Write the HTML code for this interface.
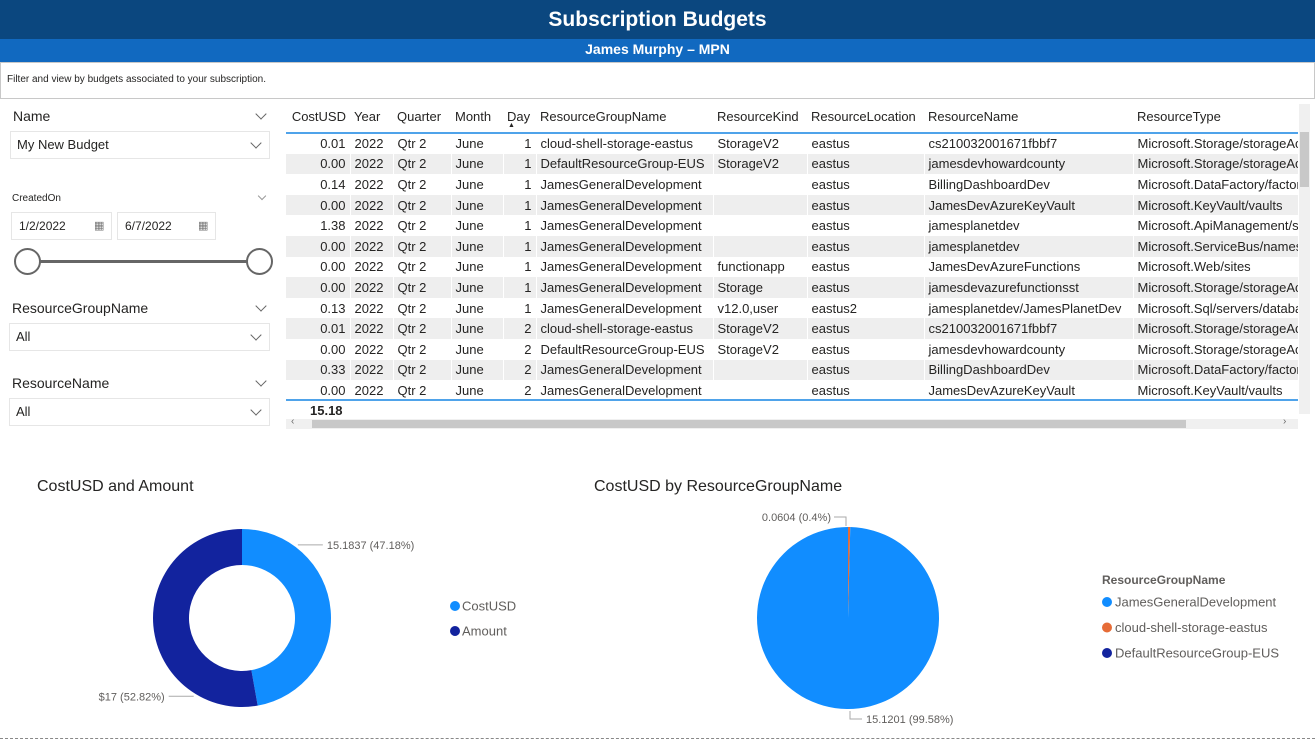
<!DOCTYPE html>
<html><head><meta charset="utf-8">
<style>
*{box-sizing:border-box;margin:0;padding:0}
body{width:1315px;height:740px;background:#fff;font-family:"Liberation Sans","DejaVu Sans",sans-serif;position:relative;overflow:hidden;color:#252423}
.abs{position:absolute}
.hdr1{left:0;top:0;width:1315px;height:39px;background:#0b477f;color:#fff;font-weight:bold;font-size:21px;text-align:center;line-height:40px}
.hdr2{left:0;top:39px;width:1315px;height:23px;background:#1169c0;color:#fff;font-weight:bold;font-size:14px;text-align:center;line-height:20px}
.desc{left:0;top:62px;width:1315px;height:37px;border:1px solid #c8c8c8;font-size:10px;line-height:34px;padding-left:6px;color:#252423}
.slab{font-size:14px;color:#252423}
.dd{border:1px solid #e6e6e6;background:#fff;font-size:13px;line-height:26px;padding-left:6px;color:#252423}
.chev{width:8px;height:8px;border-right:1px solid #666;border-bottom:1px solid #666;transform:rotate(45deg)}
table{border-collapse:collapse;table-layout:fixed;font-size:13px}
td,th{white-space:nowrap;overflow:hidden;height:20.6px;padding:0 4px;font-weight:normal;text-align:left;color:#252423}
th{height:32px;vertical-align:middle;border-bottom:2px solid #4fa3ea}
tr.alt td{background:#eeeeee}
td.r,th.r{text-align:right}
td{border-right:1px solid #fff}
</style></head><body>
<div class="abs hdr1">Subscription Budgets</div>
<div class="abs hdr2">James Murphy – MPN</div>
<div class="abs desc">Filter and view by budgets associated to your subscription.</div>

<div class="abs slab" style="left:13px;top:108px">Name</div>
<div class="abs chev" style="left:257px;top:110px"></div>
<div class="abs dd" style="left:10px;top:131px;width:260px;height:28px">My New Budget<div class="abs chev" style="left:241px;top:7px"></div></div>

<div class="abs" style="left:12px;top:193px;font-size:10px">CreatedOn</div>
<div class="abs chev" style="left:259px;top:193px;width:6px;height:6px;border-color:#999"></div>
<div class="abs dd" style="left:11px;top:212px;width:101px;height:28px;font-size:12px;padding-left:7px">1/2/2022<span class="abs" style="left:82px;top:0;font-size:11px;color:#777">▦</span></div>
<div class="abs dd" style="left:117px;top:212px;width:99px;height:28px;font-size:12px;padding-left:7px">6/7/2022<span class="abs" style="left:80px;top:0;font-size:11px;color:#777">▦</span></div>
<div class="abs" style="left:28px;top:260px;width:232px;height:3px;background:#666"></div>
<div class="abs" style="left:14px;top:248px;width:27px;height:27px;border:2px solid #666;border-radius:50%;background:#fff"></div>
<div class="abs" style="left:246px;top:248px;width:27px;height:27px;border:2px solid #666;border-radius:50%;background:#fff"></div>

<div class="abs slab" style="left:12px;top:300px">ResourceGroupName</div>
<div class="abs chev" style="left:257px;top:302px"></div>
<div class="abs dd" style="left:9px;top:323px;width:261px;height:28px">All<div class="abs chev" style="left:242px;top:7px"></div></div>

<div class="abs slab" style="left:12px;top:375px">ResourceName</div>
<div class="abs chev" style="left:257px;top:377px"></div>
<div class="abs dd" style="left:9px;top:398px;width:261px;height:28px">All<div class="abs chev" style="left:242px;top:7px"></div></div>

<div class="abs" style="left:286px;top:101px;width:1012px;height:298px;overflow:hidden">
<table id="tbl" style="width:1070px">
<colgroup><col style="width:64px"><col style="width:43px"><col style="width:58px"><col style="width:52px"><col style="width:33px"><col style="width:177px"><col style="width:94px"><col style="width:117px"><col style="width:209px"><col style="width:223px"></colgroup>
<thead><tr>
<th class="r">CostUSD</th><th>Year</th><th>Quarter</th><th>Month</th><th style="position:relative">Day<span style="position:absolute;left:5px;top:21px;font-size:7px">▲</span></th><th>ResourceGroupName</th><th>ResourceKind</th><th>ResourceLocation</th><th>ResourceName</th><th>ResourceType</th>
</tr></thead><tbody id="tb"></tbody></table>
</div>
<div class="abs" style="left:286px;top:399px;width:1012px;height:2px;background:#4fa3ea"></div>
<div class="abs" style="left:310px;top:403px;font-size:13px;font-weight:bold">15.18</div>
<div class="abs" style="left:286px;top:419px;width:1012px;height:10px;background:#f0f0f0"><div class="abs" style="left:26px;top:1px;width:874px;height:8px;background:#c8c8c8"></div><span class="abs" style="left:5px;top:-3px;font-size:10px;color:#666">‹</span><span class="abs" style="left:997px;top:-3px;font-size:10px;color:#666">›</span></div>
<div class="abs" style="left:1299px;top:104px;width:11px;height:310px;background:#f0f0f0"><div class="abs" style="left:1px;top:28px;width:9px;height:55px;background:#c8c8c8"></div></div>

<div class="abs" style="left:37px;top:478px;font-size:16px">CostUSD and Amount</div>
<div class="abs" style="left:594px;top:478px;font-size:16px">CostUSD by ResourceGroupName</div>
<svg class="abs" style="left:0;top:500px" width="1315" height="240" id="charts"></svg>
<div class="abs" style="left:0;top:738px;width:1315px;border-top:1px dashed #888"></div>

<script>
const rowsCost=["0.01","0.00","0.14","0.00","1.38","0.00","0.00","0.00","0.13","0.01","0.00","0.33","0.00"];
const rowsDay=[1,1,1,1,1,1,1,1,1,2,2,2,2];
const rowsRG=["cloud-shell-storage-eastus","DefaultResourceGroup-EUS","JamesGeneralDevelopment","JamesGeneralDevelopment","JamesGeneralDevelopment","JamesGeneralDevelopment","JamesGeneralDevelopment","JamesGeneralDevelopment","JamesGeneralDevelopment","cloud-shell-storage-eastus","DefaultResourceGroup-EUS","JamesGeneralDevelopment","JamesGeneralDevelopment"];
const rowsKind=["StorageV2","StorageV2","","","","","functionapp","Storage","v12.0,user","StorageV2","StorageV2","",""];
const rowsLoc=["eastus","eastus","eastus","eastus","eastus","eastus","eastus","eastus","eastus2","eastus","eastus","eastus","eastus"];
const rowsName=["cs210032001671fbbf7","jamesdevhowardcounty","BillingDashboardDev","JamesDevAzureKeyVault","jamesplanetdev","jamesplanetdev","JamesDevAzureFunctions","jamesdevazurefunctionsst","jamesplanetdev/JamesPlanetDev","cs210032001671fbbf7","jamesdevhowardcounty","BillingDashboardDev","JamesDevAzureKeyVault"];
const rowsType=["Microsoft.Storage/storageAccounts","Microsoft.Storage/storageAccounts","Microsoft.DataFactory/factories","Microsoft.KeyVault/vaults","Microsoft.ApiManagement/service","Microsoft.ServiceBus/namespaces","Microsoft.Web/sites","Microsoft.Storage/storageAccounts","Microsoft.Sql/servers/databases","Microsoft.Storage/storageAccounts","Microsoft.Storage/storageAccounts","Microsoft.DataFactory/factories","Microsoft.KeyVault/vaults"];
const tb=document.getElementById('tb');
rowsCost.forEach((c,i)=>{
  const tr=document.createElement('tr');
  
  
  if(i%2===1)tr.className='alt';
  tr.innerHTML=`<td class="r">${c}</td><td>2022</td><td>Qtr 2</td><td>June</td><td class="r">${rowsDay[i]}</td><td>${rowsRG[i]}</td><td>${rowsKind[i]}</td><td>${rowsLoc[i]}</td><td>${rowsName[i]}</td><td>${rowsType[i]}</td>`;
  tb.appendChild(tr);
});

const donutCats=["CostUSD","Amount"];
const donutVals=[15.1837,17];
const donutLabels=["15.1837 (47.18%)","$17 (52.82%)"];
const donutColors=["#118dff","#12239e"];
const pieCats=["JamesGeneralDevelopment","cloud-shell-storage-eastus","DefaultResourceGroup-EUS"];
const pieVals=[15.1201,0.0604,0.0001];
const pieLabels=["15.1201 (99.58%)","0.0604 (0.4%)",""];
const pieColors=["#118dff","#e66c37","#12239e"];

const NS="http://www.w3.org/2000/svg";
const svg=document.getElementById('charts');
function mk(tag,attrs,name,inter){const e=document.createElementNS(NS,tag);for(const k in attrs)e.setAttribute(k,attrs[k]);
  
  
  svg.appendChild(e);return e;}
function pt(cx,cy,r,a){return [cx+r*Math.sin(a),cy-r*Math.cos(a)];}
function arc(cx,cy,r,ri,a0,a1){
  const L=(a1-a0)>Math.PI?1:0;const [x0,y0]=pt(cx,cy,r,a0),[x1,y1]=pt(cx,cy,r,a1);
  if(ri>0){const [x2,y2]=pt(cx,cy,ri,a1),[x3,y3]=pt(cx,cy,ri,a0);
    return `M${x0},${y0}A${r},${r} 0 ${L} 1 ${x1},${y1}L${x2},${y2}A${ri},${ri} 0 ${L} 0 ${x3},${y3}Z`;}
  return `M${cx},${cy}L${x0},${y0}A${r},${r} 0 ${L} 1 ${x1},${y1}Z`;
}
(function(){
  const cx=242,cy=118,R=89,ri=53;const tot=donutVals.reduce((a,b)=>a+b,0);let a=0;
  donutVals.forEach((v,i)=>{const a1=a+v/tot*2*Math.PI;
    mk('path',{d:arc(cx,cy,R,ri,a,a1),fill:donutColors[i]},'donut-slice-'+donutCats[i].toLowerCase(),'true');
    const la=a+(a1-a)*0.22;const [px,py]=pt(cx,cy,R+3,la);const right=Math.sin(la)>0;
    const ex=px+(right?25:-25);
    mk('polyline',{points:`${px},${py} ${ex},${py}`,fill:'none',stroke:'#aaa'},'donut-leader-line','false');
    const t=mk('text',{x:ex+(right?4:-4),y:py+4,'font-size':11,fill:'#605e5c','text-anchor':right?'start':'end'},'donut-data-label','false');t.textContent=donutLabels[i];
    a=a1;});
  donutCats.forEach((c,i)=>{const y=106+i*25;
    mk('circle',{cx:455,cy:y,r:5,fill:donutColors[i]},'legend-marker-'+c.toLowerCase(),'false');
    const t=mk('text',{x:462,y:y+4.5,'font-size':13,fill:'#605e5c'},'legend-entry-'+c.toLowerCase(),'true');t.textContent=c;});
})();
(function(){
  const cx=848,cy=118,R=91;const tot=pieVals.reduce((a,b)=>a+b,0);
  let a=0;const order=[1,2,0];
  order.forEach(i=>{const a1=a+pieVals[i]/tot*2*Math.PI;
    if(pieVals[i]/tot>0.999) mk('circle',{cx,cy,r:R,fill:pieColors[i]},'pie-slice','true');
    else mk('path',{d:arc(cx,cy,R,0,a,a1),fill:pieColors[i]},'pie-slice-'+i,'true');
    a=a1;});
  mk('polyline',{points:'834,17 846,17 846,26',fill:'none',stroke:'#aaa'},'pie-leader-line-small','false');
  let t=mk('text',{x:831,y:21,'font-size':11,fill:'#605e5c','text-anchor':'end'},'pie-data-label-small','false');t.textContent=pieLabels[1];
  mk('polyline',{points:'850,211 850,219 862,219',fill:'none',stroke:'#aaa'},'pie-leader-line-large','false');
  t=mk('text',{x:866,y:223,'font-size':11,fill:'#605e5c'},'pie-data-label-large','false');t.textContent=pieLabels[0];
  t=mk('text',{x:1102,y:84,'font-size':12,'font-weight':'bold',fill:'#605e5c'},'pie-legend-title','false');t.textContent='ResourceGroupName';
  pieCats.forEach((c,i)=>{const y=102+i*25.5;
    mk('circle',{cx:1107,cy:y,r:5,fill:pieColors[i]},'pie-legend-marker','false');
    const tt=mk('text',{x:1115,y:y+4.5,'font-size':13,fill:'#605e5c'},'pie-legend-entry','true');tt.textContent=c;});
})();
</script>
</body></html>
